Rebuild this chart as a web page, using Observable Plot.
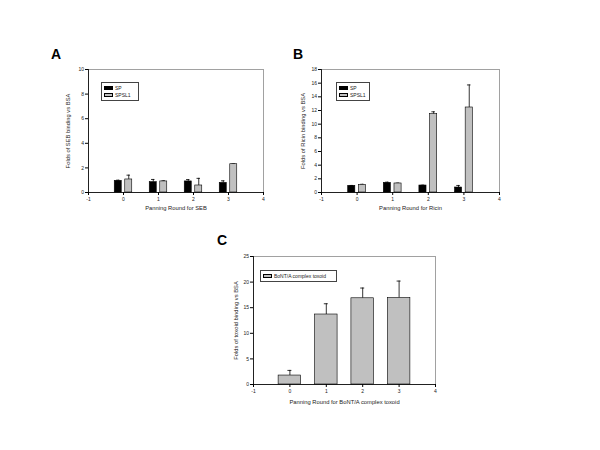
<!DOCTYPE html>
<html>
<head>
<meta charset="utf-8">
<script src="https://cdn.jsdelivr.net/npm/d3@7"></script>
<script src="https://cdn.jsdelivr.net/npm/@observablehq/plot@0.6"></script>
<style>
  html, body { margin: 0; padding: 0; background: #fff; }
  #wrap { position: relative; width: 600px; height: 450px; overflow: hidden; font-family: "Liberation Sans", Arial, sans-serif; }
  .panel { position: absolute; }
  .plabel { position: absolute; font-weight: bold; font-size: 14px; line-height: 14px; color: #000; }
  .legend { position: absolute; border: 1px solid #444; box-sizing: border-box; background: #fff;
            font-size: 5px; line-height: 6px; color: #222; padding: 2px 2px; }
  .row { display: flex; align-items: center; height: 6.5px; white-space: nowrap; }
  .sw { display: inline-block; width: 9px; height: 4px; border: 1px solid #000; margin-right: 2px; box-sizing: border-box; }
</style>
</head>
<body>
<div id="wrap"></div>
<script>
// ---- data ----
const rounds = [0, 1, 2, 3];
const xTicks = [-1, 0, 1, 2, 3, 4];

// Panel A: SEB
const sebSP = [0.95, 0.84, 0.90, 0.78];
const sebSPErr = [0.05, 0.22, 0.15, 0.17];
const sebSPSL1 = [1.06, 0.90, 0.57, 2.30];
const sebSPSL1Err = [0.35, 0.05, 0.58, 0.03];
const sebYTicks = [0, 2, 4, 6, 8, 10];

// Panel B: Ricin
const ricinSP = [0.98, 1.41, 1.02, 0.73];
const ricinSPErr = [0.05, 0.10, 0.05, 0.30];
const ricinSPSL1 = [1.12, 1.32, 11.46, 12.44];
const ricinSPSL1Err = [0.08, 0.05, 0.35, 3.30];
const ricinYTicks = [0, 2, 4, 6, 8, 10, 12, 14, 16, 18];

// Panel C: BoNT/A complex toxoid
const toxoid = [1.75, 13.67, 16.84, 16.90];
const toxoidErr = [1.00, 2.10, 2.00, 3.30];
const toxoidYTicks = [0, 5, 10, 15, 20, 25];

const SP_COLOR = "#000000";
const SL_COLOR = "#c0c0c0";

function rows(vals, errs, offset, half) {
  return rounds.map((r, i) => ({ c: r + offset, x1: r + offset - half, x2: r + offset + half, v: vals[i], top: vals[i] + errs[i] }));
}

function seriesMarks(data, fill, capHalf) {
  return [
    Plot.ruleX(data, { x: "c", y1: "v", y2: "top", stroke: "#000", strokeWidth: 0.8 }),
    Plot.ruleY(data, { y: "top", x1: d => d.c - capHalf, x2: d => d.c + capHalf, stroke: "#000", strokeWidth: 0.8 }),
    Plot.rectY(data, { x1: "x1", x2: "x2", y1: 0, y2: "v", fill, stroke: "#000", strokeWidth: 0.6 })
  ];
}

function makePanel(o) {
  return Plot.plot({
    width: o.width, height: o.height,
    marginLeft: o.ml, marginRight: o.mr, marginTop: o.mt, marginBottom: o.mb,
    style: { fontFamily: "'Liberation Sans', Arial, sans-serif", fontSize: "5px", background: "transparent", color: "#222" },
    x: { domain: [-1, 4] },
    y: { domain: o.yDomain },
    marks: [
      Plot.frame({ stroke: "#8a8a8a", strokeWidth: 0.8 }),
      ...o.series.flatMap(s => seriesMarks(s.data, s.fill, s.cap)),
      Plot.ruleY([o.yDomain[0]], { stroke: "#000", strokeWidth: 0.8 }),
      Plot.ruleX([-1], { stroke: "#000", strokeWidth: 0.8 }),
      Plot.axisX({ ticks: xTicks, tickSize: 3, tickPadding: 1.5, tickFormat: d => String(d), label: null, fontSize: 5, stroke: "#000" }),
      Plot.axisY({ ticks: o.yTicks, tickSize: 3, tickPadding: 1.5, tickFormat: d => String(d), label: null, fontSize: 5, stroke: "#000" }),
      Plot.text([o.xTitle], { frameAnchor: "bottom", dy: o.xTitleDy, text: d => d, fontSize: 5.8, fill: "#222", textAnchor: "middle" }),
      Plot.text([o.yTitle], { frameAnchor: "left", rotate: -90, dx: o.yTitleDx, text: d => d, fontSize: 5.8, fill: "#222", textAnchor: "middle" })
    ]
  });
}

const wrap = document.getElementById("wrap");
function place(el, left, top) {
  const d = document.createElement("div");
  d.className = "panel";
  d.style.left = left + "px";
  d.style.top = top + "px";
  d.appendChild(el);
  wrap.appendChild(d);
}
function label(txt, left, top) {
  const d = document.createElement("div");
  d.className = "plabel";
  d.textContent = txt;
  d.style.left = left + "px";
  d.style.top = top + "px";
  wrap.appendChild(d);
}
function legend(items, left, top, w, h) {
  const d = document.createElement("div");
  d.className = "legend";
  d.style.left = left + "px"; d.style.top = top + "px";
  d.style.width = w + "px"; d.style.height = h + "px";
  items.forEach(it => {
    const r = document.createElement("div");
    r.className = "row";
    const s = document.createElement("span");
    s.className = "sw"; s.style.background = it.color;
    const t = document.createElement("span");
    t.textContent = it.name;
    r.appendChild(s); r.appendChild(t);
    d.appendChild(r);
  });
  wrap.appendChild(d);
}

// Panel A
place(makePanel({
  width: 250, height: 180, ml: 48, mr: 27, mt: 29, mb: 28,
  yDomain: [0, 10], yTicks: sebYTicks,
  xTitle: "Panning Round for SEB", yTitle: "Folds of SEB binding vs BSA",
  xTitleDy: 17, yTitleDx: -20,
  series: [
    { data: rows(sebSP, sebSPErr, -0.15, 0.1), fill: SP_COLOR, cap: 0.05 },
    { data: rows(sebSPSL1, sebSPSL1Err, 0.15, 0.1), fill: SL_COLOR, cap: 0.05 }
  ]
}), 40, 40);

// Panel B
place(makePanel({
  width: 230, height: 180, ml: 31, mr: 21, mt: 29, mb: 28,
  yDomain: [0, 18], yTicks: ricinYTicks,
  xTitle: "Panning Round for Ricin", yTitle: "Folds of Ricin binding vs BSA",
  xTitleDy: 17, yTitleDx: -18,
  series: [
    { data: rows(ricinSP, ricinSPErr, -0.15, 0.1), fill: SP_COLOR, cap: 0.05 },
    { data: rows(ricinSPSL1, ricinSPSL1Err, 0.15, 0.1), fill: SL_COLOR, cap: 0.05 }
  ]
}), 290, 40);

// Panel C
place(makePanel({
  width: 260, height: 190, ml: 53, mr: 25, mt: 31, mb: 31,
  yDomain: [0, 25], yTicks: toxoidYTicks,
  xTitle: "Panning Round for BoNT/A complex toxoid", yTitle: "Folds of toxoid binding vs BSA",
  xTitleDy: 19, yTitleDx: -17,
  series: [
    { data: rows(toxoid, toxoidErr, 0, 0.31), fill: SL_COLOR, cap: 0.055 }
  ]
}), 200, 225);

label("A", 51, 47);
label("B", 293, 47);
label("C", 217, 233);

legend([{ name: "SP", color: SP_COLOR }, { name: "SPSL1", color: SL_COLOR }], 101, 82, 38, 19);
legend([{ name: "SP", color: SP_COLOR }, { name: "SPSL1", color: SL_COLOR }], 336, 82, 34, 19);
legend([{ name: "BoNT/A complex toxoid", color: SL_COLOR }], 260, 270, 77, 12);
</script>
</body>
</html>
